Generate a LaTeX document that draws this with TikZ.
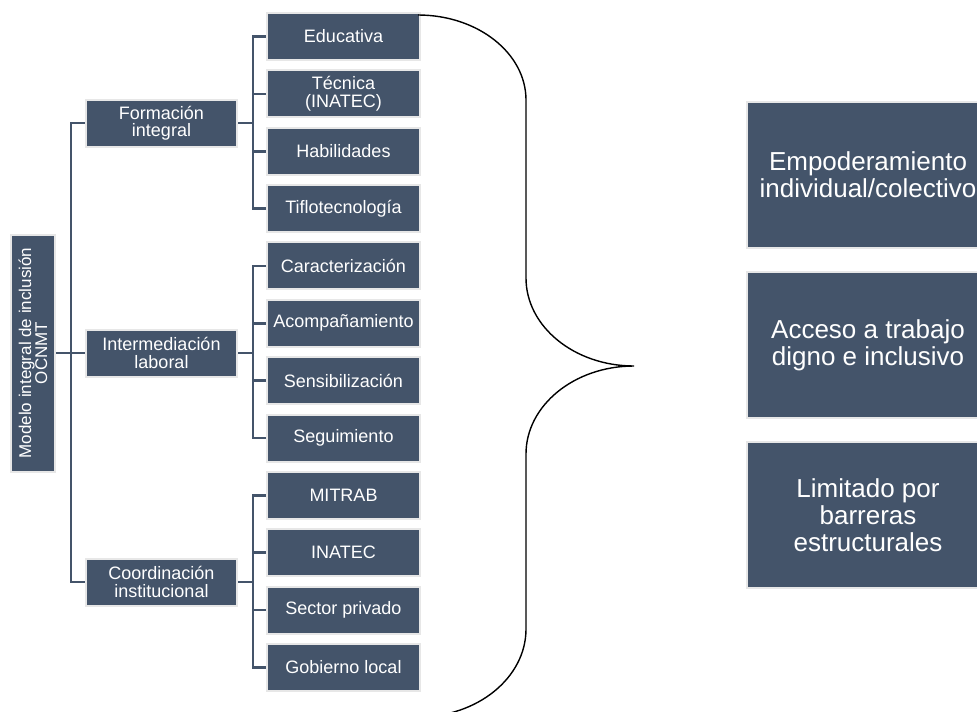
\documentclass[tikz,border=0pt]{standalone}
\usepackage{fontspec}
\setmainfont{Liberation Sans}
\definecolor{boxfill}{HTML}{44546A}
\definecolor{boxedge}{HTML}{E7E7E7}
\tikzset{
  x=1pt, y=-1pt,
  basebox/.style={draw=boxedge, line width=2pt, fill=boxfill, text=white, align=center, inner sep=0pt},
  leafbox/.style={basebox, minimum width=153pt, minimum height=47pt, font=\fontsize{18}{17.5}\selectfont},
  midbox/.style={basebox, minimum width=151pt, minimum height=47pt, font=\fontsize{18}{17.5}\selectfont},
  rootbox/.style={basebox, minimum width=237pt, minimum height=44pt, rotate=90, font=\fontsize{17}{16}\selectfont},
  bigbox/.style={basebox, minimum width=242pt, minimum height=146pt, font=\fontsize{26}{27}\selectfont},
  conn/.style={draw=boxfill, line width=2.6pt, line join=miter},
  bracestyle/.style={draw=black, line width=1.4pt}
}
\begin{document}
\begin{tikzpicture}
\useasboundingbox (0,0) rectangle (977,712);
\clip (0,0) rectangle (977,712);
% root
\node[rootbox] (root) at (33,353) {Modelo integral de inclusión\\OCNMT};
% level 1
\node[midbox] (f1) at (161.5,123) {Formación\\integral};
\node[midbox] (f2) at (161.5,353) {Intermediación\\laboral};
\node[midbox] (f3) at (161.5,582) {Coordinación\\institucional};
% leaves
\foreach \i/\t in {1/Educativa, 2/{Técnica\\(INATEC)}, 3/Habilidades, 4/Tiflotecnología,
  5/Caracterización, 6/Acompañamiento, 7/Sensibilización, 8/Seguimiento,
  9/MITRAB, 10/INATEC, 11/Sector privado, 12/Gobierno local}{
  \node[leafbox] (c\i) at (343.5,{36.5+57.36*(\i-1)}) {\t};
}
% right boxes
\node[bigbox] (r1) at (868,175) {Empoderamiento\\individual/colectivo};
\node[bigbox] (r2) at (868,345) {Acceso a trabajo\\digno e inclusivo};
\node[bigbox] (r3) at (868,515) {Limitado por\\barreras\\estructurales};
% connectors root -> level 1
\coordinate (j0) at (71,353);
\draw[conn] (root.south) -- (j0);
\draw[conn] (j0) |- (f1.west);
\draw[conn] (j0) |- (f2.west);
\draw[conn] (j0) |- (f3.west);
% connectors level 1 -> leaves
\coordinate (j1) at (253,123);
\coordinate (j2) at (253,353);
\coordinate (j3) at (253,582);
\draw[conn] (f1.east) -- (j1);
\draw[conn] (f2.east) -- (j2);
\draw[conn] (f3.east) -- (j3);
\foreach \k in {1,2,3,4}{\draw[conn] (j1) |- (c\k.west);}
\foreach \k in {5,6,7,8}{\draw[conn] (j2) |- (c\k.west);}
\foreach \k in {9,10,11,12}{\draw[conn] (j3) |- (c\k.west);}
% brace
\coordinate (btop) at (418,15);
\coordinate (btip) at (634,366);
\coordinate (bbot) at (418,717);
\draw[bracestyle] (btop) .. controls (477.6,15) and (526,53.1) .. (526,100)
  -- (526,278) .. controls (526,326.6) and (574.4,366) .. (btip)
  .. controls (574.4,366) and (526,405.4) .. (526,454)
  -- (526,629) .. controls (526,677.6) and (477.6,717) .. (bbot);
\end{tikzpicture}
\end{document}
